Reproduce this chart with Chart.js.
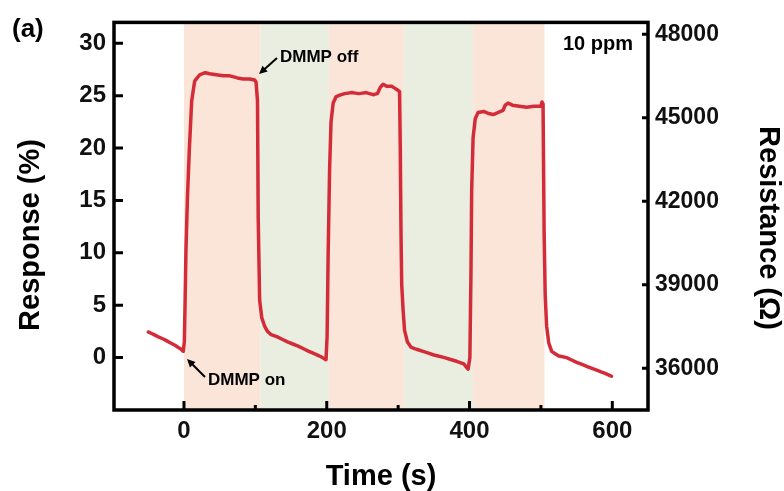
<!DOCTYPE html>
<html>
<head>
<meta charset="utf-8">
<script src="https://cdn.jsdelivr.net/npm/chart.js@4.4.1/dist/chart.umd.min.js"></script>
<style>
  html, body { margin: 0; padding: 0; background: #fff; }
</style>
</head>
<body>
<canvas id="dmmpChart" width="784" height="491"></canvas>
<script>
// Response trace: time (s) and response (%)
const timeS = [
  -50, -42, -35, -28, -20, -12, -5, -1,
  0.5, 1.5, 2.8, 5, 7.5, 10.8, 15, 22, 30, 36, 45, 55, 64, 75, 83, 92, 99, 101,
  103, 104, 106, 109, 113, 117, 122, 130, 145, 160, 175, 190, 199,
  200.5, 202, 204, 206, 209, 213, 216, 225, 235, 245, 255, 265, 271, 275, 279, 284, 291, 298, 302,
  303, 304, 305, 307, 309, 313, 318, 323, 335, 350, 365, 382, 392, 398,
  400.5, 402, 403, 405, 408, 412, 420, 427, 433, 440, 447, 450, 454, 460, 470, 480, 490, 500, 501.5, 503,
  503.5, 504.5, 506, 508, 511, 515, 525, 536, 550, 565, 580, 590, 599
];
const responsePct = [
  2.45, 2.2, 1.95, 1.75, 1.45, 1.15, 0.85, 0.6,
  1.5, 5, 10.3, 15.5, 19.8, 24.5, 26.4, 27.0, 27.2, 27.1, 27.0, 26.9, 26.9, 26.7, 26.6, 26.6, 26.5, 26.3,
  24.5, 13.4, 5.5, 3.8, 3.0, 2.5, 2.2, 2.0, 1.5, 1.1, 0.6, 0.15, -0.2,
  2, 10, 18, 22.5, 24.3, 24.9, 25.0, 25.2, 25.3, 25.2, 25.3, 25.1, 25.2, 25.8, 26.1, 25.9, 25.9, 25.6, 25.4,
  20, 12, 7, 4.5, 2.6, 1.5, 1.0, 0.86, 0.6, 0.25, 0.0, -0.35, -0.6, -1.1,
  0, 8, 16, 21, 22.8, 23.4, 23.5, 23.3, 23.2, 23.4, 23.6, 24.1, 24.3, 24.1, 24.0, 23.9, 24.0, 24.0, 24.4, 24.2,
  20, 12, 6, 3, 1.4, 0.6, 0.15, 0.0, -0.45, -0.85, -1.25, -1.5, -1.78
];

// axis ticks
const xTicks = [0, 200, 400, 600];
const xMinorTicks = [100, 300, 500];
const responseTicks = [0, 5, 10, 15, 20, 25, 30];
const resistanceTicks = [36000, 39000, 42000, 45000, 48000];

// DMMP on / off windows (shaded)
const bandStart = [0, 107, 203, 308, 405];
const bandEnd = [107, 203, 308, 405, 505];
const bandColor = ['#fbe4d8', '#eaeee1', '#fbe4d8', '#eaeee1', '#fbe4d8'];

const FONT = '"Liberation Sans", Arial, sans-serif';
Chart.defaults.font.family = FONT;
Chart.defaults.color = '#111';

function drawArrow(ctx, x0, y0, x1, y1) {
  const ang = Math.atan2(y1 - y0, x1 - x0);
  ctx.beginPath();
  ctx.moveTo(x0, y0);
  ctx.lineTo(x1 - 5 * Math.cos(ang), y1 - 5 * Math.sin(ang));
  ctx.stroke();
  ctx.beginPath();
  ctx.moveTo(x1, y1);
  ctx.lineTo(x1 - 9 * Math.cos(ang - 0.45), y1 - 9 * Math.sin(ang - 0.45));
  ctx.lineTo(x1 - 9 * Math.cos(ang + 0.45), y1 - 9 * Math.sin(ang + 0.45));
  ctx.closePath();
  ctx.fill();
}

const decorations = {
  id: 'decorations',
  beforeDatasetsDraw(chart) {
    const {ctx, chartArea: a, scales: {x}} = chart;
    ctx.save();
    for (let i = 0; i < bandStart.length; i++) {
      const x0 = x.getPixelForValue(bandStart[i]);
      const x1 = x.getPixelForValue(bandEnd[i]);
      ctx.fillStyle = bandColor[i];
      ctx.fillRect(x0, a.top, x1 - x0, a.bottom - a.top);
    }
    ctx.restore();
  },
  afterDraw(chart) {
    const {ctx, chartArea: a, scales: {x, y, y2}} = chart;
    ctx.save();
    ctx.strokeStyle = '#000';
    ctx.fillStyle = '#000';

    // inward tick marks
    ctx.lineWidth = 3;
    ctx.beginPath();
    xTicks.forEach(v => {
      const p = x.getPixelForValue(v);
      ctx.moveTo(p, a.bottom); ctx.lineTo(p, a.bottom - 9);
    });
    xMinorTicks.forEach(v => {
      const p = x.getPixelForValue(v);
      ctx.moveTo(p, a.bottom); ctx.lineTo(p, a.bottom - 5);
    });
    responseTicks.forEach(v => {
      const p = y.getPixelForValue(v);
      ctx.moveTo(a.left, p); ctx.lineTo(a.left + 9, p);
    });
    resistanceTicks.forEach(v => {
      const p = y2.getPixelForValue(v);
      ctx.moveTo(a.right, p); ctx.lineTo(a.right - 6, p);
    });
    ctx.stroke();

    // frame
    ctx.lineWidth = 3.5;
    ctx.strokeRect(a.left, a.top, a.right - a.left, a.bottom - a.top);

    // y axis titles
    ctx.font = 'bold 29px ' + FONT;
    ctx.textAlign = 'center';
    ctx.textBaseline = 'middle';
    ctx.save();
    ctx.translate(31, 235);
    ctx.rotate(-Math.PI / 2);
    ctx.fillText('Response (%)', 0, 0);
    ctx.restore();
    ctx.save();
    ctx.translate(768, 228);
    ctx.rotate(Math.PI / 2);
    ctx.fillText('Resistance (Ω)', 0, 0);
    ctx.restore();

    // panel label and notes
    ctx.textBaseline = 'alphabetic';
    ctx.font = 'bold 26px ' + FONT;
    ctx.textAlign = 'left';
    ctx.fillText('(a)', 12, 37);
    ctx.font = 'bold 20px ' + FONT;
    ctx.textAlign = 'right';
    ctx.fillText('10 ppm', 633, 50);
    ctx.textAlign = 'left';
    ctx.font = 'bold 17px ' + FONT;
    ctx.fillText('DMMP off', 280, 62);
    ctx.fillText('DMMP on', 208, 385);

    ctx.lineWidth = 2;
    drawArrow(ctx, 277, 58, 259, 74);
    drawArrow(ctx, 205, 377, 187, 359);
    ctx.restore();
  }
};

const ctx = document.getElementById('dmmpChart').getContext('2d');
new Chart(ctx, {
  type: 'line',
  data: {
    datasets: [{
      label: 'Response',
      data: timeS.map((t, i) => ({x: t, y: responsePct[i]})),
      borderColor: '#d42b38',
      borderWidth: 3.5,
      borderJoinStyle: 'round',
      borderCapStyle: 'round',
      pointRadius: 0,
      // tiny tension avoids the fast path that merges near-vertical points
      tension: 0.001,
      fill: false,
      yAxisID: 'y'
    }]
  },
  options: {
    responsive: false,
    animation: false,
    layout: { padding: { top: 21, left: 0, right: 0, bottom: 0 } },
    plugins: { legend: { display: false }, tooltip: { enabled: false } },
    scales: {
      x: {
        type: 'linear',
        min: -98,
        max: 650,
        afterBuildTicks: s => { s.ticks = xTicks.map(v => ({value: v})); },
        afterFit: s => { s.height = 81; },
        grid: { display: false, drawTicks: false, tickLength: 0 },
        border: { display: false },
        ticks: { font: { size: 24, weight: 'bold' }, padding: 7, maxRotation: 0, callback: v => String(v) },
        title: { display: true, text: 'Time (s)', font: { size: 29, weight: 'bold', lineHeight: 1 }, padding: { top: 0, bottom: 0 }, color: '#000' }
      },
      y: {
        position: 'left',
        min: -5,
        max: 32,
        afterBuildTicks: s => { s.ticks = responseTicks.map(v => ({value: v})); },
        afterFit: s => { s.width = 114; },
        grid: { display: false, drawTicks: false, tickLength: 0 },
        border: { display: false },
        ticks: { font: { size: 24, weight: 'bold' }, padding: 8, callback: v => String(v) }
      },
      y2: {
        position: 'right',
        display: true,
        min: 34500,
        max: 48430,
        afterBuildTicks: s => { s.ticks = resistanceTicks.map(v => ({value: v})); },
        afterFit: s => { s.width = 136; },
        grid: { display: false, drawTicks: false, tickLength: 0 },
        border: { display: false },
        ticks: { font: { size: 23, weight: 'bold' }, padding: 7, callback: v => String(v) }
      }
    }
  },
  plugins: [decorations]
});
</script>
</body>
</html>
